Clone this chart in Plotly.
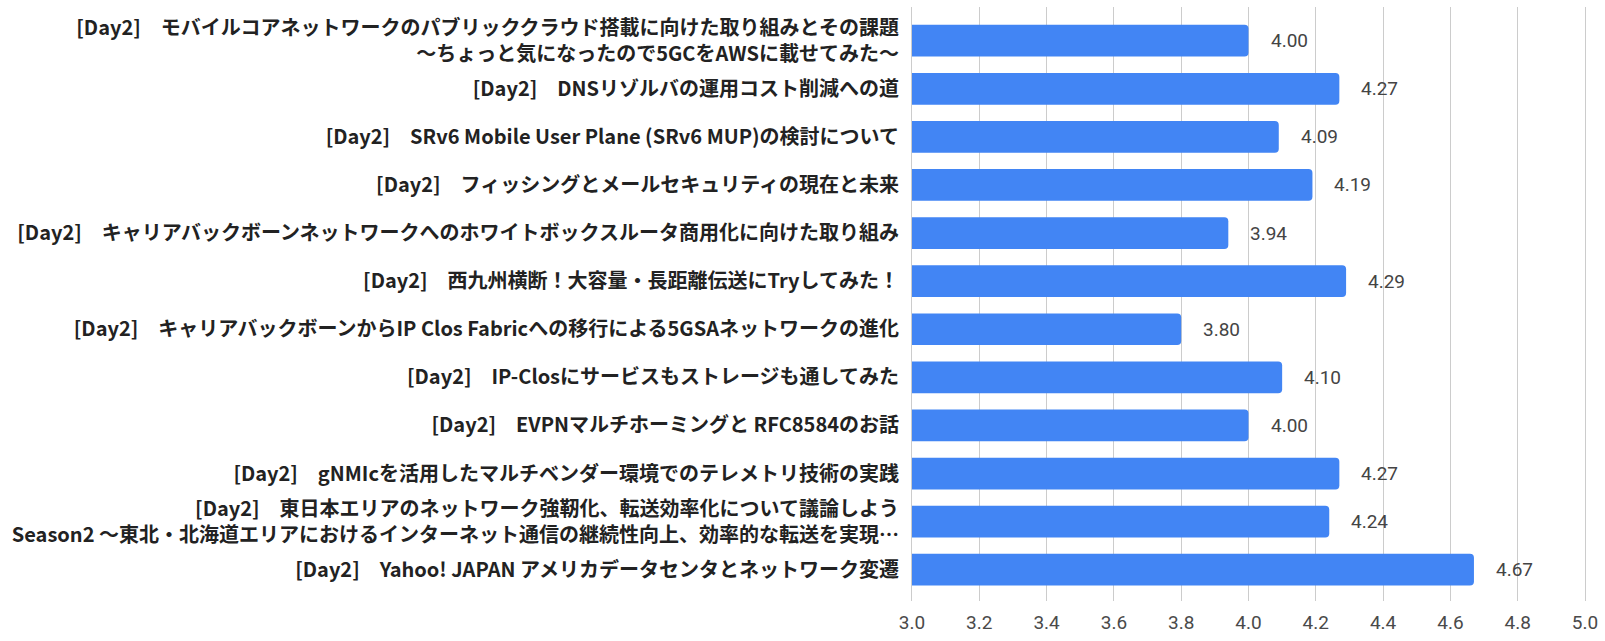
import plotly.graph_objects as go

labels = [
    "[Day2]　モバイルコアネットワークのパブリッククラウド搭載に向けた取り組みとその課題<br>〜ちょっと気になったので5GCをAWSに載せてみた〜",
    "[Day2]　DNSリゾルバの運用コスト削減への道",
    "[Day2]　SRv6 Mobile User Plane (SRv6 MUP)の検討について",
    "[Day2]　フィッシングとメールセキュリティの現在と未来",
    "[Day2]　キャリアバックボーンネットワークへのホワイトボックスルータ商用化に向けた取り組み",
    "[Day2]　西九州横断！大容量・長距離伝送にTryしてみた！",
    "[Day2]　キャリアバックボーンからIP Clos Fabricへの移行による5GSAネットワークの進化",
    "[Day2]　IP-Closにサービスもストレージも通してみた",
    "[Day2]　EVPNマルチホーミングと RFC8584のお話",
    "[Day2]　gNMIcを活用したマルチベンダー環境でのテレメトリ技術の実践",
    "[Day2]　東日本エリアのネットワーク強靭化、転送効率化について議論しよう<br>Season2 〜東北・北海道エリアにおけるインターネット通信の継続性向上、効率的な転送を実現…",
    "[Day2]　Yahoo! JAPAN アメリカデータセンタとネットワーク変遷",
]
values = [4.00, 4.27, 4.09, 4.19, 3.94, 4.29, 3.80, 4.10, 4.00, 4.27, 4.24, 4.67]
x_ticks = [3.0, 3.2, 3.4, 3.6, 3.8, 4.0, 4.2, 4.4, 4.6, 4.8, 5.0]

ypos = list(range(len(labels)))

fig = go.Figure()
fig.add_trace(go.Bar(
    x=values, y=ypos, orientation="h",
    marker=dict(color="#4285F4", cornerradius=4, line=dict(width=0)),
    hoverinfo="skip",
))

for v, yy in zip(values, ypos):
    fig.add_annotation(
        x=v, y=yy, text=f"{v:.2f}", showarrow=False,
        xanchor="left", yanchor="middle", xshift=20,
        font=dict(family="Roboto", size=19, color="#444444"),
    )

fig.update_layout(
    width=1605, height=641,
    margin=dict(l=912, r=16, t=7, b=32),
    paper_bgcolor="white", plot_bgcolor="white",
    bargap=0.34, showlegend=False,
    xaxis=dict(
        range=[3.0, 5.0], tickvals=x_ticks,
        ticktext=[f"{t:.1f}" for t in x_ticks],
        showgrid=True, gridcolor="#cccccc", gridwidth=1,
        zeroline=False, showline=False,
        tickfont=dict(family="Roboto", size=19, color="#4a4a4a"),
        ticklabelstandoff=8,
    ),
    yaxis=dict(
        range=[11.65, -0.7], tickvals=ypos, ticktext=labels,
        showgrid=False, zeroline=False,
        showline=True, mirror=True, linecolor="#cccccc", linewidth=1,
        tickfont=dict(family="Noto Sans CJK JP", size=20, color="#222222", weight="bold"),
        ticklabelstandoff=8,
    ),
)

fig.write_html("out.html", config={"displayModeBar": False},
               post_script="document.body.style.margin='0';")
